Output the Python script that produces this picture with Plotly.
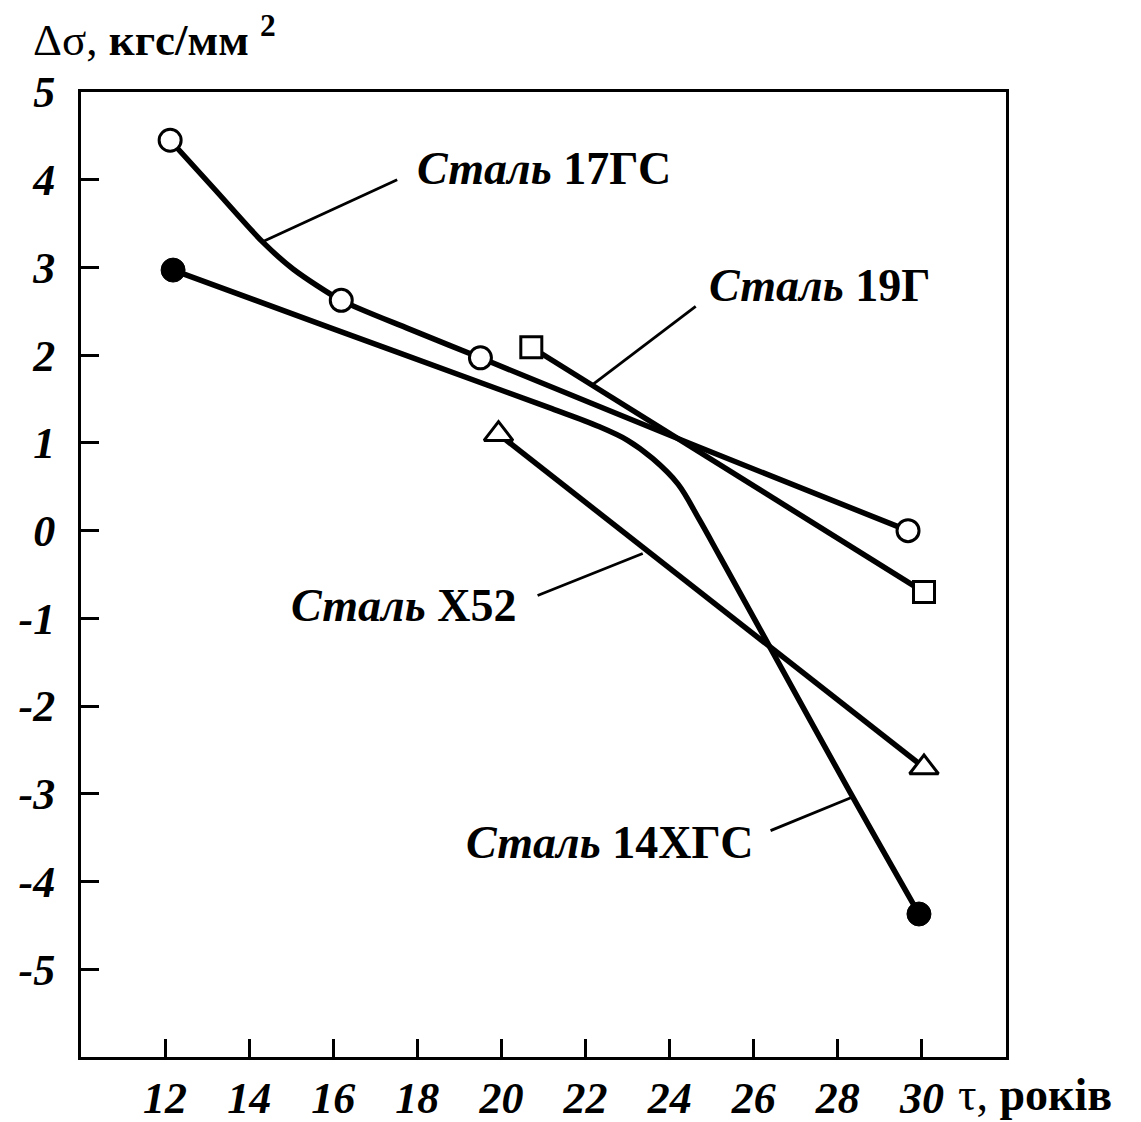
import plotly.graph_objects as go

# ---- data ----
# measured points
x_17gs = [12.12, 16.19, 19.5, 29.67]
y_17gs = [4.45, 2.625, 1.97, 0.0]
# curve path of 17ГС
cx_17gs = [12.12, 13.2, 14.3, 15.05, 16.19, 17.8, 19.5, 24.5, 29.67]
cy_17gs = [4.45, 3.88, 3.30, 2.98, 2.625, 2.30, 1.97, 0.99, 0.0]

x_14hgs = [12.19, 29.93]
y_14hgs = [2.97, -4.37]
cx_14hgs = [12.19, 16.0, 20.0, 21.2, 22.3, 23.0, 23.6, 24.2, 24.7, 25.2, 26.1, 28.3, 29.93]
cy_14hgs = [2.97, 2.30, 1.60, 1.39, 1.19, 1.03, 0.82, 0.53, 0.13, -0.30, -1.08, -2.99, -4.37]

x_19g = [20.71, 30.05]
y_19g = [2.09, -0.70]

x_x52 = [19.93, 30.05]
y_x52 = [1.10, -2.70]

x_ticks = [12, 14, 16, 18, 20, 22, 24, 26, 28, 30]
y_ticks = [5, 4, 3, 2, 1, 0, -1, -2, -3, -4, -5]
y_ticktext = ["5", "4", "3", "2", "1", "0", "-1", "-2", "-3", "-4", "-5"]

# labels: text, text anchor (x,y), leader line (x0,y0)->(x1,y1)
labels = [
    ("<i>Сталь</i> 17ГС", 17.95, 4.13, 17.52, 4.0, 14.33, 3.295),
    ("<i>Сталь</i> 19Г", 24.9, 2.79, 24.62, 2.557, 22.12, 1.648),
    ("<i>Сталь</i> X52", 14.95, -0.85, 23.36, -0.261, 20.86, -0.739),
    ("<i>Сталь</i> 14ХГС", 19.12, -3.55, 28.31, -3.045, 26.40, -3.42),
]

FONT = "Liberation Serif"
LW = 5.5

fig = go.Figure()

# curves
fig.add_trace(go.Scatter(x=cx_17gs, y=cy_17gs, mode="lines",
                         line=dict(color="black", width=LW, shape="spline", smoothing=0.7)))
fig.add_trace(go.Scatter(x=cx_14hgs, y=cy_14hgs, mode="lines",
                         line=dict(color="black", width=LW, shape="spline", smoothing=1.0)))
fig.add_trace(go.Scatter(x=x_19g, y=y_19g, mode="lines",
                         line=dict(color="black", width=LW)))
fig.add_trace(go.Scatter(x=x_x52, y=y_x52, mode="lines",
                         line=dict(color="black", width=LW)))

# leader lines
for t, tx, ty, x0, y0, x1, y1 in labels:
    fig.add_trace(go.Scatter(x=[x0, x1], y=[y0, y1], mode="lines",
                             line=dict(color="black", width=2.8)))

# markers
fig.add_trace(go.Scatter(x=x_17gs, y=y_17gs, mode="markers",
                         marker=dict(symbol="circle", size=22, color="white",
                                     line=dict(color="black", width=3))))
fig.add_trace(go.Scatter(x=x_14hgs, y=y_14hgs, mode="markers",
                         marker=dict(symbol="circle", size=24, color="black",
                                     line=dict(color="black", width=1))))
fig.add_trace(go.Scatter(x=x_19g, y=y_19g, mode="markers",
                         marker=dict(symbol="square", size=21, color="white",
                                     line=dict(color="black", width=3))))
fig.add_trace(go.Scatter(x=x_x52, y=y_x52, mode="markers",
                         marker=dict(symbol="triangle-up", size=25, color="white",
                                     line=dict(color="black", width=3))))

for t, tx, ty, x0, y0, x1, y1 in labels:
    fig.add_annotation(x=tx, y=ty, xref="x", yref="y", text=t, showarrow=False,
                       xanchor="left", yanchor="middle",
                       font=dict(family=FONT, size=46, color="black", weight="bold"))

# axis titles
fig.add_annotation(x=-0.054, y=1.058, xref="paper", yref="paper",
                   text="Δσ, <b>кгс/мм</b> <sup><b>2</b></sup>",
                   showarrow=False, xanchor="left", yanchor="middle",
                   font=dict(family=FONT, size=45, color="black"))
fig.add_annotation(x=0.946, y=-0.039, xref="paper", yref="paper",
                   text="τ, <b>років</b>", showarrow=False,
                   xanchor="left", yanchor="middle",
                   font=dict(family=FONT, size=46, color="black"))

axis_common = dict(showline=True, mirror=True, linecolor="black", linewidth=3,
                   ticks="inside", ticklen=18, tickwidth=3, tickcolor="black",
                   showgrid=False, zeroline=False, automargin=False,
                   tickfont=dict(family=FONT, size=44, color="black",
                                 weight="bold", style="italic"))

fig.update_xaxes(range=[10, 32], tickvals=x_ticks, ticktext=[str(v) for v in x_ticks],
                 ticklabelstandoff=0, **axis_common)
fig.update_yaxes(range=[-6, 5], tickvals=y_ticks, ticktext=y_ticktext,
                 ticklabelstandoff=14, **axis_common)

fig.update_layout(width=1141, height=1122, showlegend=False,
                  margin=dict(l=81, r=135, t=92, b=65),
                  paper_bgcolor="white", plot_bgcolor="white")

fig.write_html("out.html")
